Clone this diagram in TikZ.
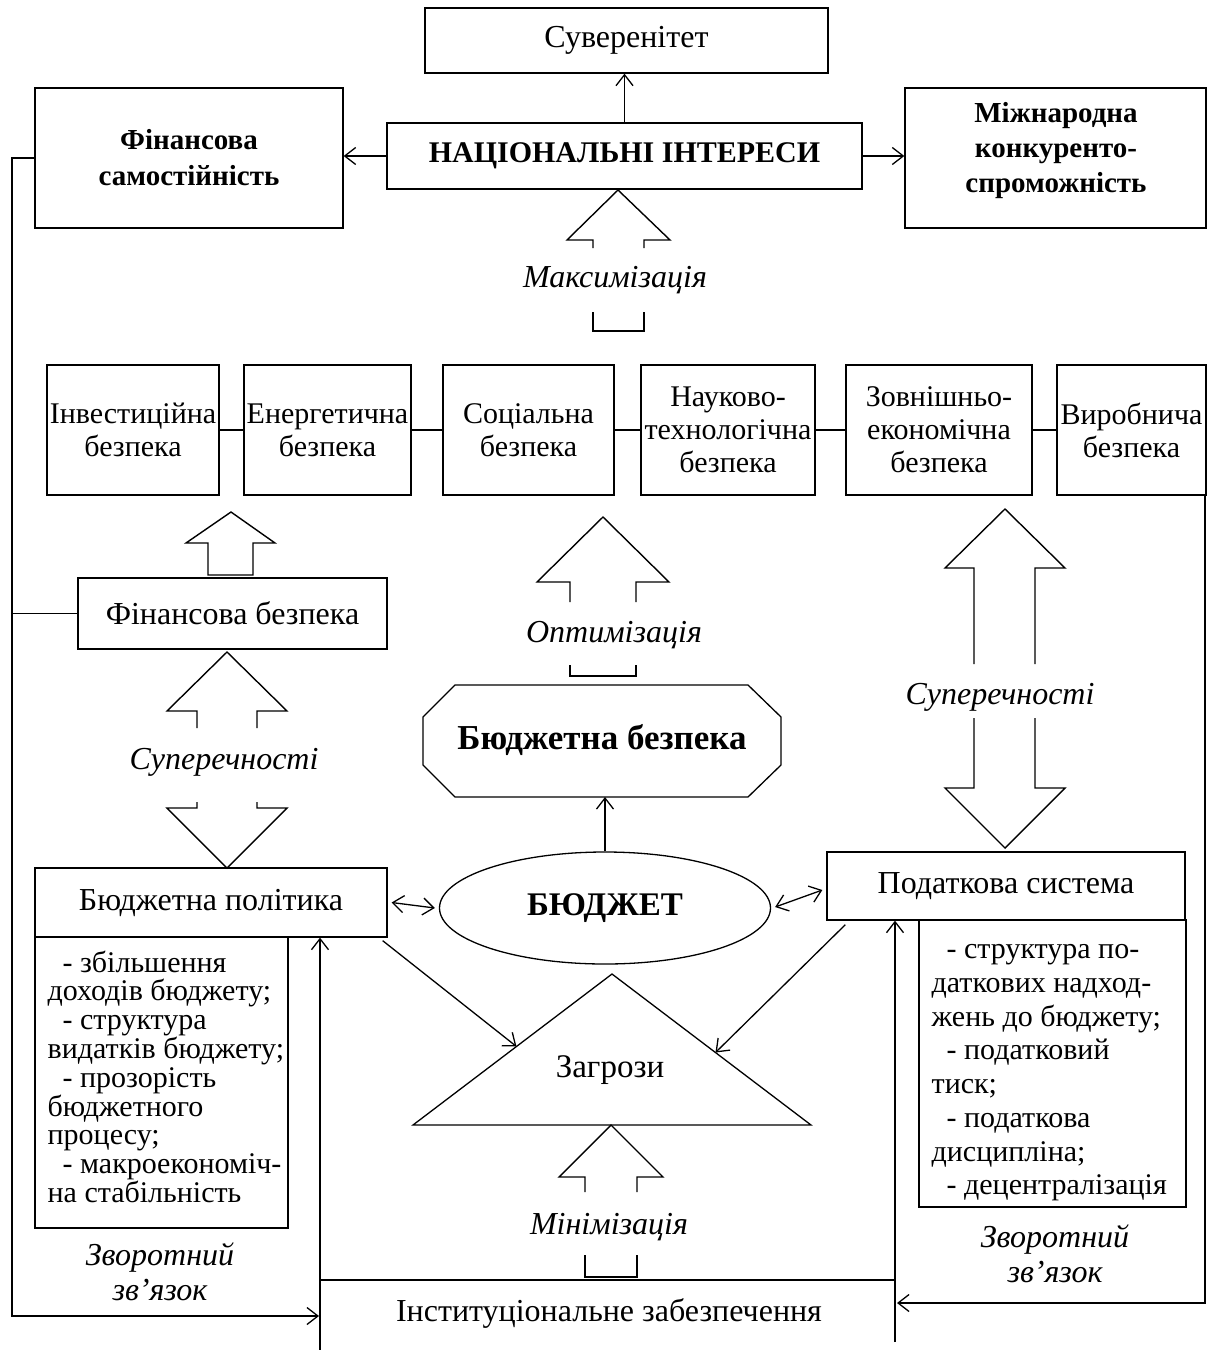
\documentclass[tikz,border=0pt]{standalone}
\usepackage{fontspec}
\setmainfont{Liberation Serif}
\usetikzlibrary{arrows.meta,calc,shapes.geometric}
\newcommand\myfs{\fontsize{32}{35}\selectfont}
\newcommand\secfs{\fontsize{30}{33}\selectfont}
\begin{document}
\begin{tikzpicture}[x=1pt,y=-1pt,line width=1.3pt,
 every node/.style={font=\myfs, inner sep=0pt},
 box/.style={draw, rectangle, align=center},
 secbox/.style={draw, rectangle, align=center, font=\secfs, minimum height=130pt},
 arr/.style={-{Straight Barb[length=11pt,width=17pt]}},
 darr/.style={{Straight Barb[length=11pt,width=17pt]}-{Straight Barb[length=11pt,width=17pt]}},
 lbl/.style={font=\itshape\myfs},
 blk/.style={line width=1.4pt, line join=miter}
]
\useasboundingbox (0,0) rectangle (1208,1350);

% top
\node[box, minimum width=403pt, minimum height=65pt] (suv) at (626.5,40.5) {Суверенітет};
\node[box, minimum width=475pt, minimum height=66pt, font=\bfseries\fontsize{30}{33}\selectfont] (ni) at (624.5,156) {НАЦІОНАЛЬНІ ІНТЕРЕСИ};
\node[box, minimum width=308pt, minimum height=140pt, font=\bfseries\fontsize{29}{36}\selectfont] (fs) at (189,158) {Фінансова\\самостійність};
\node[box, minimum width=301pt, minimum height=140pt] (mk) at (1055.5,158) {};
\node[align=center, font=\bfseries\fontsize{29}{35}\selectfont] (mkt) at (1056,151) {Міжнародна\\конкуренто-\\спроможність};
\draw[arr] (ni.north) -- (ni.north |- suv.south);
\draw[arr] (ni.west) -- (ni.west -| fs.east);
\draw[arr] (ni.east) -- (ni.east -| mk.west);

% Maksymizatsiya arrow
\draw[blk] (593,248) -- (593,240) -- (567,240) -- (618,190) -- (670,240) -- (644,240) -- (644,248);
\draw[blk] (593,312) -- (593,331) -- (644,331) -- (644,312);
\node[lbl] (lmax) at (615,280) {Максимізація};

% security row
\node[secbox, minimum width=172pt] (s1) at (133,430) {Інвестиційна\\безпека};
\node[secbox, minimum width=167pt] (s2) at (327.5,430) {Енергетична\\безпека};
\node[secbox, minimum width=171pt] (s3) at (528.5,430) {Соціальна\\безпека};
\node[secbox, minimum width=174pt] (s4) at (728,430) {Науково-\\технологічна\\безпека};
\node[secbox, minimum width=186pt] (s5) at (939,430) {Зовнішньо-\\економічна\\безпека};
\node[secbox, minimum width=149pt] (s6) at (1131.5,430) {Виробнича\\безпека};
\draw (s1.east) -- (s2.west);
\draw (s2.east) -- (s3.west);
\draw (s3.east) -- (s4.west);
\draw (s4.east) -- (s5.west);
\draw (s5.east) -- (s6.west);

% financial security
\node[box, minimum width=309pt, minimum height=71pt] (fb) at (232.5,613.5) {Фінансова безпека};
\draw[blk] (208,575) -- (208,543) -- (186,543) -- (231,512) -- (275,543) -- (253,543) -- (253,575) -- cycle;

% left double arrow
\draw[blk] (197,728) -- (197,711) -- (167,711) -- (227,652) -- (287,711) -- (257,711) -- (257,728);
\draw[blk] (197,802) -- (197,808) -- (167,808) -- (227,868) -- (287,808) -- (257,808) -- (257,802);
\node[lbl] (lsup1) at (224,762) {Суперечності};

% optimization arrow
\draw[blk] (570,602) -- (570,582) -- (537,582) -- (603,517) -- (669,582) -- (636,582) -- (636,602);
\draw[blk] (570,665) -- (570,676) -- (636,676) -- (636,665);
\node[lbl] (lopt) at (614,635) {Оптимізація};

% octagon
\draw (455,685) -- (748,685) -- (781,717) -- (781,765) -- (748,797) -- (455,797) -- (423,765) -- (423,717) -- cycle;
\node[font=\bfseries\fontsize{35}{38}\selectfont] (bb) at (602,740) {Бюджетна безпека};
\coordinate (obot) at (605,797);

% right double arrow
\draw[blk] (974,664) -- (974,568) -- (945,568) -- (1005,509) -- (1065,568) -- (1035,568) -- (1035,664);
\draw[blk] (974,718) -- (974,788) -- (945,788) -- (1005,848) -- (1065,788) -- (1035,788) -- (1035,718);
\node[lbl] (lsup2) at (1000,697) {Суперечності};

% budget policy
\node[box, minimum width=352pt, minimum height=69pt] (bp) at (211,902.5) {Бюджетна політика};
\draw (35,937) rectangle (288,1228);
\node[anchor=north west, align=left, font=\fontsize{30}{28.8}\selectfont] (bpl) at (47,950) {\hspace*{0.5em}- збільшення\\доходів бюджету;\\\hspace*{0.5em}- структура\\видатків бюджету;\\\hspace*{0.5em}- прозорість\\бюджетного\\процесу;\\\hspace*{0.5em}- макроекономіч-\\на стабільність};

% tax system
\node[box, minimum width=358pt, minimum height=68pt] (ps) at (1006,886) {Податкова система};
\draw (919,920) rectangle (1186,1207);
\node[anchor=north west, align=left, font=\fontsize{30}{33.7}\selectfont] (psl) at (931,944) {\hspace*{0.5em}- структура по-\\даткових надход-\\жень до бюджету;\\\hspace*{0.5em}- податковий\\тиск;\\\hspace*{0.5em}- податкова\\дисципліна;\\\hspace*{0.5em}- децентралізація};

% budget
\node[draw, ellipse, minimum width=331pt, minimum height=112pt, font=\bfseries\fontsize{33}{36}\selectfont] (bud) at (605,908) {БЮДЖЕТ};
\draw[arr] (bud.north) -- (obot);
\draw[darr] ($(bp.east)+(4,0)$) -- ($(bud.west)+(-4,0)$);
\draw[darr] ($(bud.east)+(4,-1)$) -- ($(ps.west)+(-4,4)$);

% threats triangle
\coordinate (tA) at (612,974);
\coordinate (tL) at (413,1125);
\coordinate (tR) at (811,1125);
\draw (tA) -- (tL) -- (tR) -- cycle;
\node[font=\fontsize{33}{36}\selectfont] (zag) at (610,1070) {Загрози};
\draw[arr] ($(bp.south east)+(-5,3)$) -- ($(tA)!0.48!(tL)$);
\draw[arr] ($(ps.south west)+(19,4)$) -- ($(tA)!0.52!(tR)$);

% minimization arrow
\draw[blk] (585,1192) -- (585,1177) -- (559,1177) -- (611,1125) -- (663,1177) -- (637,1177) -- (637,1192);
\draw[blk] (585,1255) -- (585,1277) -- (637,1277) -- (637,1255);
\node[lbl] (lmin) at (609,1227) {Мінімізація};

% institutional
\node (inst) at (609,1313) {Інституціональне забезпечення};
\coordinate (iL) at (320,1350);
\coordinate (iR) at (895,1342);
\draw (320,1280) -- (895,1280);
\draw[arr] (iL) -- (iL |- bp.south);
\draw[arr] (iR) -- (iR |- ps.south);

% feedback
\node[lbl, align=center] (fbl) at (160,1272) {Зворотний\\зв’язок};
\node[lbl, align=center] (fbr) at (1055,1254) {Зворотний\\зв’язок};
\coordinate (instL) at (319,1316);
\coordinate (instR) at (897,1303);
\draw[arr] (fs.west) -| (12,1316) -- (instL);
\draw (fb.west) -- (12,613.5);
\draw[arr] (1205,495) -- (1205,1303) -- (instR);
\end{tikzpicture}
\end{document}
